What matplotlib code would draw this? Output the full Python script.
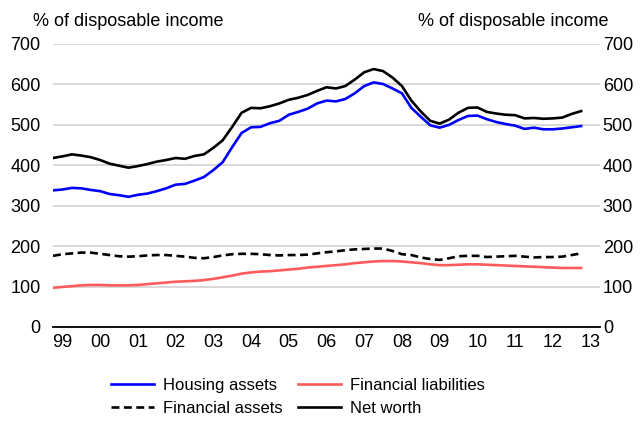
import numpy as np
import matplotlib
matplotlib.use("Agg")
import matplotlib.pyplot as plt

plt.rcParams['font.family'] = ['Liberation Sans', 'DejaVu Sans']

# quarterly, 1999Q1 - 2013Q1, % of disposable income
start_year = 1999
housing = [338, 340, 344, 343, 339, 336, 329, 326, 322, 327, 330, 336, 343, 352, 354, 362,
           371, 388, 408, 445, 480, 494, 495, 504, 510, 525, 532, 540, 553, 560, 558, 564,
           578, 596, 605, 601, 590, 578, 542, 520, 499, 493, 500, 512, 522, 523, 514, 507,
           502, 498, 490, 493, 489, 489, 491, 494, 497]
fin_liab = [97, 99, 101, 103, 104, 104, 103, 103, 103, 104, 106, 108, 110, 112, 113, 114,
            116, 119, 123, 127, 132, 135, 137, 138, 140, 142, 144, 147, 149, 151, 153, 155,
            158, 160, 162, 163, 163, 162, 160, 158, 155, 153, 153, 154, 155, 155, 154, 153,
            152, 151, 150, 149, 148, 147, 146, 146, 146]
fin_assets = [176, 180, 182, 184, 184, 181, 178, 175, 174, 175, 177, 178, 178, 176, 174, 171,
              170, 173, 177, 180, 181, 181, 180, 178, 177, 178, 178, 179, 182, 185, 187, 190,
              192, 193, 194, 194, 188, 180, 178, 172, 168, 166, 170, 175, 176, 176, 173, 174,
              175, 176, 174, 172, 173, 173, 174, 178, 182]
net_worth = [418, 422, 427, 424, 420, 413, 404, 399, 394, 398, 403, 409, 413, 418, 416, 423,
             427, 443, 462, 495, 530, 542, 541, 546, 553, 562, 567, 574, 584, 593, 590, 596,
             612, 630, 638, 633, 617, 596, 560, 533, 510, 503, 513, 530, 542, 543, 532, 528,
             525, 524, 516, 517, 515, 516, 518, 527, 534]
year_labels = ['99', '00', '01', '02', '03', '04', '05', '06', '07', '08', '09', '10', '11', '12', '13']
y_ticks = [0, 100, 200, 300, 400, 500, 600, 700]

x = start_year + np.arange(len(housing)) * 0.25

fig = plt.figure(figsize=(6.41, 4.21), dpi=100)
ax = fig.add_axes([0.0827, 0.2233, 0.8533, 0.6722])

l_house, = ax.plot(x, housing, color='#0000ff', lw=1.9, label='Housing assets', zorder=3)
l_liab, = ax.plot(x, fin_liab, color='#ff5b5b', lw=1.9, label='Financial liabilities', zorder=3)
l_fa, = ax.plot(x, fin_assets, color='black', lw=1.9, ls=(0, (3, 1.7)), label='Financial assets', zorder=3)
l_nw, = ax.plot(x, net_worth, color='black', lw=1.9, label='Net worth', zorder=3)

ax.set_xlim(start_year, start_year + 14.5)
ax.set_ylim(0, 700)
ax.set_yticks(y_ticks)
ax.grid(axis='y', color='#d4d4d4', lw=1.3)
ax.set_axisbelow(True)

for s in ['top', 'left', 'right']:
    ax.spines[s].set_visible(False)
ax.spines['bottom'].set_linewidth(1.3)
ax.spines['bottom'].set_zorder(4)

ax.set_xticks(start_year + np.arange(len(year_labels)) + 0.25)
ax.set_xticklabels(year_labels)
ax.tick_params(axis='x', length=0, pad=5, labelsize=13)
ax.tick_params(axis='y', length=0, pad=9, labelsize=13)

ax2 = ax.twinx()
ax2.set_ylim(0, 700)
ax2.set_yticks(y_ticks)
ax2.tick_params(axis='y', length=0, pad=2, labelsize=13)
for s in ['top', 'left', 'right', 'bottom']:
    ax2.spines[s].set_visible(False)

fig.text(33 / 641, 1 - 26 / 421, '% of disposable income', fontsize=13, ha='left', va='baseline')
fig.text(609 / 641, 1 - 26 / 421, '% of disposable income', fontsize=13, ha='right', va='baseline')

# legend fills column-wise: rows read Housing/Liabilities, Fin. assets/Net worth
handles = [l_house, l_fa, l_liab, l_nw]
fig.legend(handles, [h.get_label() for h in handles], ncol=2, loc='center',
           bbox_to_anchor=(298 / 641, 1 - 397 / 421), frameon=False,
           fontsize=12, handlelength=2.6, handletextpad=0.55, columnspacing=0.9,
           labelspacing=0.5)

fig.savefig('out.png', dpi=100)
